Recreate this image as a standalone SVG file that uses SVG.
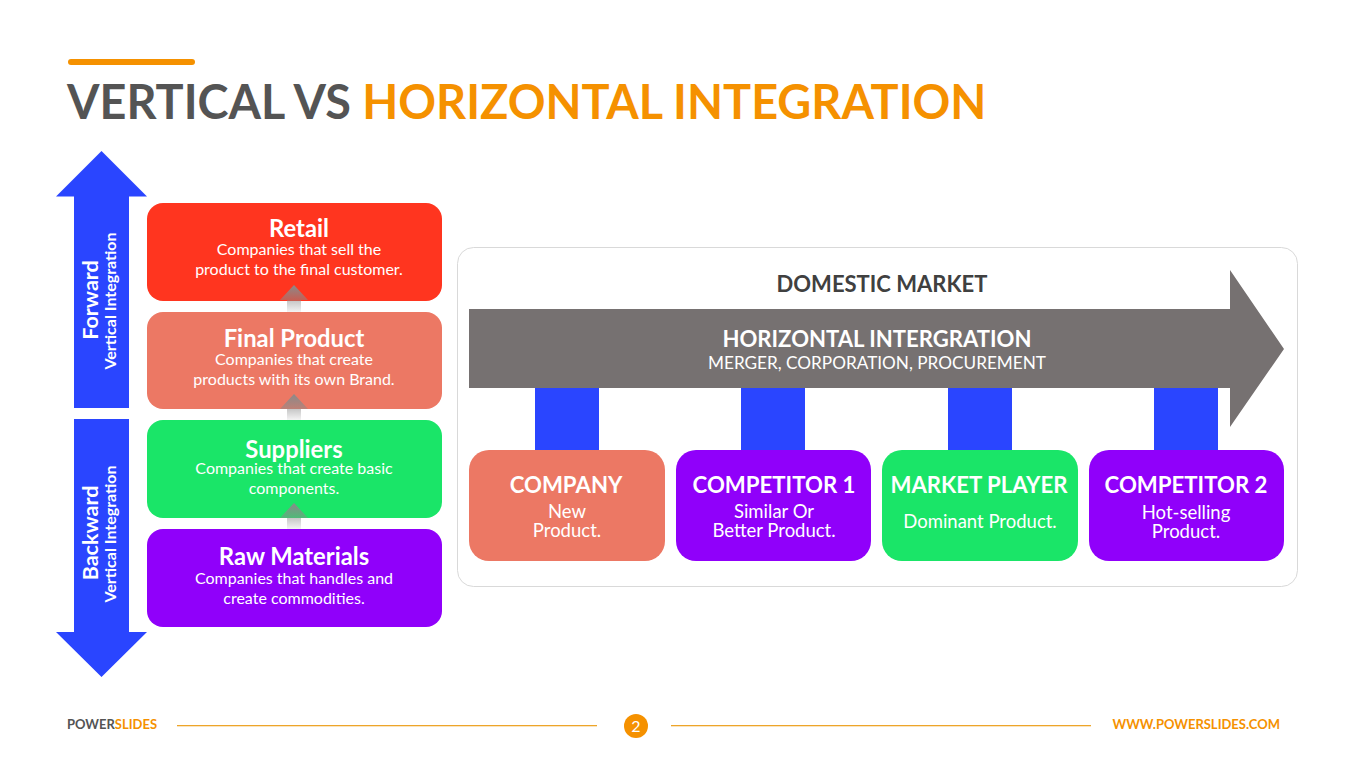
<svg xmlns="http://www.w3.org/2000/svg" width="1365" height="767" viewBox="0 0 1365 767">
<style>
text{font-family:Lato,"Open Sans",sans-serif;text-anchor:middle;fill:#fff}
.h{font-weight:700;font-size:23.800px}
.s{font-size:16px}
.v1{font-weight:700;font-size:21.500px}
.v2{font-weight:700;font-size:16px}
.c{font-weight:700;font-size:22.200px}
.d{font-size:18.500px}
.blue{fill:#2a45ff}
</style>
<defs>
<linearGradient id="g" x1="0" y1="0" x2="0" y2="1"><stop offset="0" stop-color="#8a8a8a"/><stop offset="1" stop-color="#8a8a8a" stop-opacity="0.1"/></linearGradient>
</defs>
<rect width="1365" height="767" fill="#fff"/>
<g id="title">
<rect x="68" y="59" width="127" height="6" rx="3" fill="#f59100"/>
<text x="67" y="118.500" style="text-anchor:start;font-weight:700;font-size:46.800px;fill:#545454">VERTICAL VS <tspan fill="#f59100">HORIZONTAL INTEGRATION</tspan></text>
</g>
<g id="forward-arrow">
<polygon class="blue" points="101.500,151 147,196.500 129,196.500 129,408 74,408 74,196.500 56,196.500"/>
<text class="v1" transform="translate(98,300) rotate(-90)">Forward</text>
<text class="v2" transform="translate(116,301) rotate(-90)">Vertical Integration</text>
</g>
<g id="backward-arrow">
<polygon class="blue" points="74,419 129,419 129,632 147,632 101.500,677 56,632 74,632"/>
<text class="v1" transform="translate(98,533) rotate(-90)">Backward</text>
<text class="v2" transform="translate(116,534) rotate(-90)">Vertical Integration</text>
</g>
<g id="retail">
<rect x="147" y="203" width="295" height="98" rx="16" fill="#ff351f"/>
<text class="h" x="299" y="237">Retail</text>
<text class="s" x="299" y="255">Companies that sell the</text>
<text class="s" x="299" y="275">product to the final customer.</text>
</g>
<g id="final-product">
<rect x="147" y="312" width="295" height="97" rx="16" fill="#ec7864"/>
<text class="h" x="294" y="347">Final Product</text>
<text class="s" x="294" y="365">Companies that create</text>
<text class="s" x="294" y="385">products with its own Brand.</text>
</g>
<g id="suppliers">
<rect x="147" y="420" width="295" height="98" rx="16" fill="#1ae568"/>
<text class="h" x="294" y="458">Suppliers</text>
<text class="s" x="294" y="474">Companies that create basic</text>
<text class="s" x="294" y="494">components.</text>
</g>
<g id="raw-materials">
<rect x="147" y="529" width="295" height="98" rx="16" fill="#9000fa"/>
<text class="h" x="294" y="565">Raw Materials</text>
<text class="s" x="294" y="584">Companies that handles and</text>
<text class="s" x="294" y="604">create commodities.</text>
</g>
<g id="connectors">
<path d="M280 300 L294 285 L308 300Z M287 300H301V312H287Z" fill="url(#g)"/>
<path d="M280 409 L294 394 L308 409Z M287 409H301V420H287Z" fill="url(#g)"/>
<path d="M280 518 L294 503 L308 518Z M287 518H301V529H287Z" fill="url(#g)"/>
</g>
<g id="domestic-market">
<rect x="457.500" y="247.500" width="840" height="339" rx="16" fill="#fff" stroke="#d9d9d9"/>
<text x="882" y="291.500" style="font-weight:700;font-size:22px;fill:#404040">DOMESTIC MARKET</text>
</g>
<g id="horizontal-arrow">
<rect class="blue" x="535" y="385" width="64" height="70"/>
<rect class="blue" x="741" y="385" width="64" height="70"/>
<rect class="blue" x="948" y="385" width="64" height="70"/>
<rect class="blue" x="1154" y="385" width="64" height="70"/>
<polygon points="469,309 1230,309 1230,270 1284,349 1230,427 1230,388 469,388" fill="#767171"/>
<text x="877" y="347" style="font-weight:700;font-size:22.100px">HORIZONTAL INTERGRATION</text>
<text x="877" y="369" style="font-size:17.200px">MERGER, CORPORATION, PROCUREMENT</text>
</g>
<g id="company">
<rect x="469" y="450" width="196" height="111" rx="20" fill="#ec7864"/>
<text class="c" x="566" y="492.500">COMPANY</text>
<text class="d" x="567" y="517.500">New</text>
<text class="d" x="567" y="536.500">Product.</text>
</g>
<g id="competitor-1">
<rect x="676" y="450" width="195" height="111" rx="20" fill="#9000fa"/>
<text class="c" x="774" y="492.500">COMPETITOR 1</text>
<text class="d" x="774" y="517.500">Similar Or</text>
<text class="d" x="774" y="537">Better Product.</text>
</g>
<g id="market-player">
<rect x="882" y="450" width="196" height="111" rx="20" fill="#1ae568"/>
<text class="c" x="979" y="492.500">MARKET PLAYER</text>
<text class="d" x="980" y="528">Dominant Product.</text>
</g>
<g id="competitor-2">
<rect x="1089" y="450" width="195" height="111" rx="20" fill="#9000fa"/>
<text class="c" x="1186" y="492.500">COMPETITOR 2</text>
<text class="d" x="1186" y="519">Hot-selling</text>
<text class="d" x="1186" y="538">Product.</text>
</g>
<g id="footer">
<text x="67" y="729" style="text-anchor:start;font-weight:700;font-size:13px;fill:#545454">POWER<tspan fill="#f59100">SLIDES</tspan></text>
<rect x="177" y="725" width="420" height="1.300" fill="#eda52a"/>
<rect x="671" y="725" width="420" height="1.300" fill="#eda52a"/>
<circle cx="636" cy="726" r="12" fill="#f59100"/>
<text x="636" y="732" style="font-size:16px">2</text>
<text x="1280" y="729" style="text-anchor:end;font-weight:700;font-size:13px;fill:#f59100">WWW.POWERSLIDES.COM</text>
</g>
</svg>
